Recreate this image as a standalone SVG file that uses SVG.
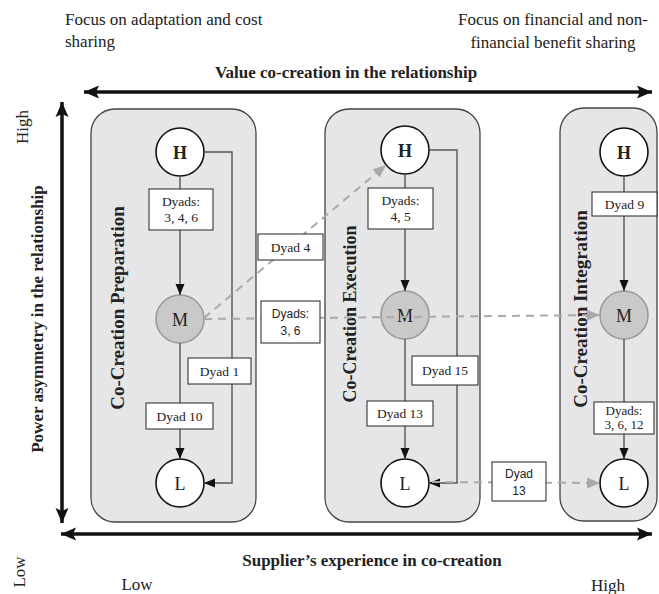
<svg xmlns="http://www.w3.org/2000/svg" width="659" height="594" viewBox="0 0 659 594">
<style>
.serif{font-family:"Liberation Serif","Times New Roman",serif;fill:#222}
.sans{font-family:"Liberation Sans",Arial,sans-serif;fill:#222}
.bold{font-weight:bold}
.panel{fill:#e6e6e8;stroke:#444;stroke-width:1.3}
.circ{fill:#fff;stroke:#111;stroke-width:1.6}
.mid{fill:#c9c9c9;stroke:#9a9a9a;stroke-width:1.6}
.box{fill:#fff;stroke:#222;stroke-width:1}
.solid{fill:none;stroke:#555;stroke-width:1.4}
.dash{fill:none;stroke:#aaa;stroke-width:2;stroke-dasharray:8 6}
.axis{fill:none;stroke:#111;stroke-width:3.5}
</style>
<defs>
<marker id="ab" markerUnits="userSpaceOnUse" markerWidth="12" markerHeight="12" refX="11" refY="6" orient="auto"><path d="M0,1.5 L11,6 L0,10.5 z" fill="#111"/></marker>
<marker id="ag" markerUnits="userSpaceOnUse" markerWidth="14" markerHeight="14" refX="13" refY="7" orient="auto"><path d="M0,1.5 L13,7 L0,12.5 z" fill="#aaa"/></marker>
<marker id="ax" markerUnits="userSpaceOnUse" markerWidth="16" markerHeight="14" refX="15" refY="7" orient="auto-start-reverse"><path d="M0,0.5 L15,7 L0,13.5 L3,7 z" fill="#111"/></marker>
</defs>

<g id="axes">
<line class="axis" x1="84" y1="92" x2="652" y2="92" marker-start="url(#ax)" marker-end="url(#ax)"/>
<line class="axis" x1="62" y1="102" x2="62" y2="523" marker-start="url(#ax)" marker-end="url(#ax)"/>
<line class="axis" x1="61" y1="534" x2="652" y2="534" marker-start="url(#ax)" marker-end="url(#ax)"/>
</g>

<g id="labels">
<text class="serif" x="65" y="25" font-size="17">Focus on adaptation and cost</text>
<text class="serif" x="65" y="47" font-size="17">sharing</text>
<text class="serif" x="553" y="25" font-size="17" text-anchor="middle">Focus on financial and non-</text>
<text class="serif" x="553" y="48" font-size="17" text-anchor="middle">financial benefit sharing</text>
<text class="serif bold" x="346" y="78" font-size="17" text-anchor="middle">Value co-creation in the relationship</text>
<text class="serif bold" x="372" y="566" font-size="17" text-anchor="middle">Supplier’s experience in co-creation</text>
<text class="serif" x="137" y="590" font-size="17" text-anchor="middle">Low</text>
<text class="serif" x="608" y="591" font-size="17" text-anchor="middle">High</text>
<text class="serif" transform="translate(28,127) rotate(-90)" font-size="17" text-anchor="middle">High</text>
<text class="serif" transform="translate(25,572) rotate(-90)" font-size="17" text-anchor="middle">Low</text>
<text class="serif bold" transform="translate(43,319) rotate(-90)" font-size="17" text-anchor="middle">Power asymmetry in the relationship</text>
</g>

<g id="panels">
<g id="panel-preparation">
<rect class="panel" x="91" y="109" width="165" height="413" rx="24"/>
<text class="serif bold" transform="translate(124,308) rotate(-90)" font-size="19" text-anchor="middle">Co-Creation Preparation</text>
</g>
<g id="panel-execution">
<rect class="panel" x="325" y="109" width="155" height="413" rx="24"/>
<text class="serif bold" transform="translate(356,314) rotate(-90)" font-size="18" text-anchor="middle">Co-Creation Execution</text>
</g>
<g id="panel-integration">
<rect class="panel" x="560" y="108" width="97" height="413" rx="24"/>
<text class="serif bold" transform="translate(587,309) rotate(-90)" font-size="19" text-anchor="middle">Co-Creation Integration</text>
</g>
</g>

<g id="nodes">
<g id="H1"><circle class="circ" cx="180" cy="152" r="24"/><text class="serif bold" x="180" y="158.5" font-size="18" text-anchor="middle">H</text></g>
<g id="M1"><circle class="mid" cx="180" cy="319" r="24"/><text class="serif" x="180" y="325.5" font-size="18" text-anchor="middle">M</text></g>
<g id="L1"><circle class="circ" cx="180" cy="483" r="24"/><text class="serif" x="180" y="489.5" font-size="18" text-anchor="middle">L</text></g>
<g id="H2"><circle class="circ" cx="405" cy="150" r="24"/><text class="serif bold" x="405" y="156.5" font-size="18" text-anchor="middle">H</text></g>
<g id="M2"><circle class="mid" cx="405" cy="315" r="24"/><text class="serif" x="405" y="321.5" font-size="18" text-anchor="middle">M</text></g>
<g id="L2"><circle class="circ" cx="405" cy="483" r="24"/><text class="serif" x="405" y="489.5" font-size="18" text-anchor="middle">L</text></g>
<g id="H3"><circle class="circ" cx="624" cy="152" r="24"/><text class="serif bold" x="624" y="158.5" font-size="18" text-anchor="middle">H</text></g>
<g id="M3"><circle class="mid" cx="624" cy="315" r="24"/><text class="serif" x="624" y="321.5" font-size="18" text-anchor="middle">M</text></g>
<g id="L3"><circle class="circ" cx="624" cy="483" r="24"/><text class="serif" x="624" y="489.5" font-size="18" text-anchor="middle">L</text></g>
</g>

<g id="connectors">
<line class="solid" x1="180" y1="176" x2="180" y2="295" marker-end="url(#ab)"/>
<line class="solid" x1="180" y1="343" x2="180" y2="459" marker-end="url(#ab)"/>
<polyline class="solid" points="204,152 232,152 232,483 204,483" marker-end="url(#ab)"/>
<line class="solid" x1="405" y1="174" x2="405" y2="291" marker-end="url(#ab)"/>
<line class="solid" x1="405" y1="339" x2="405" y2="459" marker-end="url(#ab)"/>
<polyline class="solid" points="429,150 457,150 457,483 429,483" marker-end="url(#ab)"/>
<line class="solid" x1="624" y1="176" x2="624" y2="291" marker-end="url(#ab)"/>
<line class="solid" x1="624" y1="339" x2="624" y2="459" marker-end="url(#ab)"/>
<line class="dash" x1="204" y1="318" x2="386" y2="165" marker-end="url(#ag)"/>
<line class="dash" x1="204" y1="319" x2="600" y2="315" marker-end="url(#ag)"/>
<line class="dash" x1="432" y1="482" x2="600" y2="483" marker-end="url(#ag)"/>
</g>

<g id="edge-labels">
<g id="lbl-p1-hm"><rect class="box" x="149" y="189" width="64" height="41"/><text class="serif" x="181" y="206" font-size="13.5" text-anchor="middle">Dyads:</text><text class="serif" x="181" y="222" font-size="13.5" text-anchor="middle">3, 4, 6</text></g>
<g id="lbl-dyad4"><rect class="box" x="258" y="234" width="65" height="26"/><text class="serif" x="290.5" y="252" font-size="13.5" text-anchor="middle">Dyad 4</text></g>
<g id="lbl-dyads36"><rect class="box" x="261" y="301" width="59" height="42"/><text class="sans" x="290.5" y="318" font-size="12" text-anchor="middle">Dyads:</text><text class="sans" x="290.5" y="335" font-size="12" text-anchor="middle">3, 6</text></g>
<g id="lbl-dyad1"><rect class="box" x="188" y="358" width="63" height="26"/><text class="serif" x="219.5" y="376" font-size="13.5" text-anchor="middle">Dyad 1</text></g>
<g id="lbl-dyad10"><rect class="box" x="146" y="403" width="67" height="26"/><text class="serif" x="179.5" y="421" font-size="13.5" text-anchor="middle">Dyad 10</text></g>
<g id="lbl-p2-hm"><rect class="box" x="368" y="188" width="65" height="41"/><text class="serif" x="400.5" y="205" font-size="13.5" text-anchor="middle">Dyads:</text><text class="serif" x="400.5" y="221" font-size="13.5" text-anchor="middle">4, 5</text></g>
<g id="lbl-dyad15"><rect class="box" x="412" y="356" width="66" height="29"/><text class="serif" x="445" y="375" font-size="13.5" text-anchor="middle">Dyad 15</text></g>
<g id="lbl-dyad13a"><rect class="box" x="367" y="401" width="66" height="25"/><text class="serif" x="400" y="418" font-size="13.5" text-anchor="middle">Dyad 13</text></g>
<g id="lbl-dyad13b"><rect class="box" x="492" y="462" width="54" height="39"/><text class="sans" x="519" y="478" font-size="12" text-anchor="middle">Dyad</text><text class="sans" x="519" y="495" font-size="12" text-anchor="middle">13</text></g>
<g id="lbl-dyad9"><rect class="box" x="592" y="192" width="65" height="24"/><text class="serif" x="624.5" y="209" font-size="13.5" text-anchor="middle">Dyad 9</text></g>
<g id="lbl-p3-ml"><rect class="box" x="594" y="402" width="60" height="32"/><text class="serif" x="624" y="415" font-size="13" text-anchor="middle">Dyads:</text><text class="serif" x="624" y="429" font-size="13" text-anchor="middle">3, 6, 12</text></g>
</g>
</svg>
